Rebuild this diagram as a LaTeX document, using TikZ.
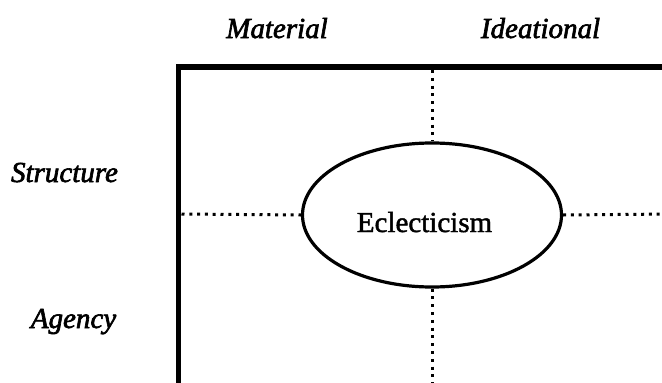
\documentclass[tikz,border=0pt]{standalone}
\usepackage{fontspec}
\setmainfont{Liberation Serif}
\usepackage{tikz}
\usetikzlibrary{positioning}
\usetikzlibrary{shapes.geometric}

\begin{document}
\begin{tikzpicture}[x=1pt, y=-1pt,
    axislabel/.style={font=\fontsize{29}{34}\selectfont\itshape\addfontfeatures{FakeBold=2.2},
      inner sep=0pt, anchor=base},
    bubble/.style={ellipse, draw=black, line width=3.2pt, minimum width=259pt,
      minimum height=144pt, inner sep=0pt},
    framebox/.style={draw=black, line width=5.5pt},
    dotline/.style={draw=black, line width=3pt, dash pattern=on 3pt off 4.8pt}, ]
    \useasboundingbox (0,0) rectangle (662,383);
    \clip (0,0) rectangle (662,383);
    % Frame
    \draw[framebox] (178.5,67) rectangle (720,430);
    \coordinate (topmid) at (432,70); \coordinate (botmid) at (432,390);
    \coordinate (leftmid) at (181.5,214); \coordinate (rightmid) at (670,214);
    % Nodes
    \node[bubble] (eclect) at (432,215) {};
    \node[axislabel, font=\fontsize{29}{34}\selectfont\addfontfeatures{FakeBold=1.5}]
    (ecltext) at (424.5,232) {Eclecticism};
    \node[axislabel] (material) at (277,38) {Material};
    \node[axislabel] (ideational) at (540.5,38) {Ideational};
    \node[axislabel] (structure) at (64.5,182) {Structure};
    \node[axislabel] (agency) at (73.5,328) {Agency};
    % Lines
    \draw[dotline] (topmid) -- (eclect.north); \draw[dotline]
    (eclect.south) -- (botmid); \draw[dotline] (leftmid) -- (eclect.west);
    \draw[dotline] (eclect.east) -- (rightmid);
\end{tikzpicture}
\end{document}
